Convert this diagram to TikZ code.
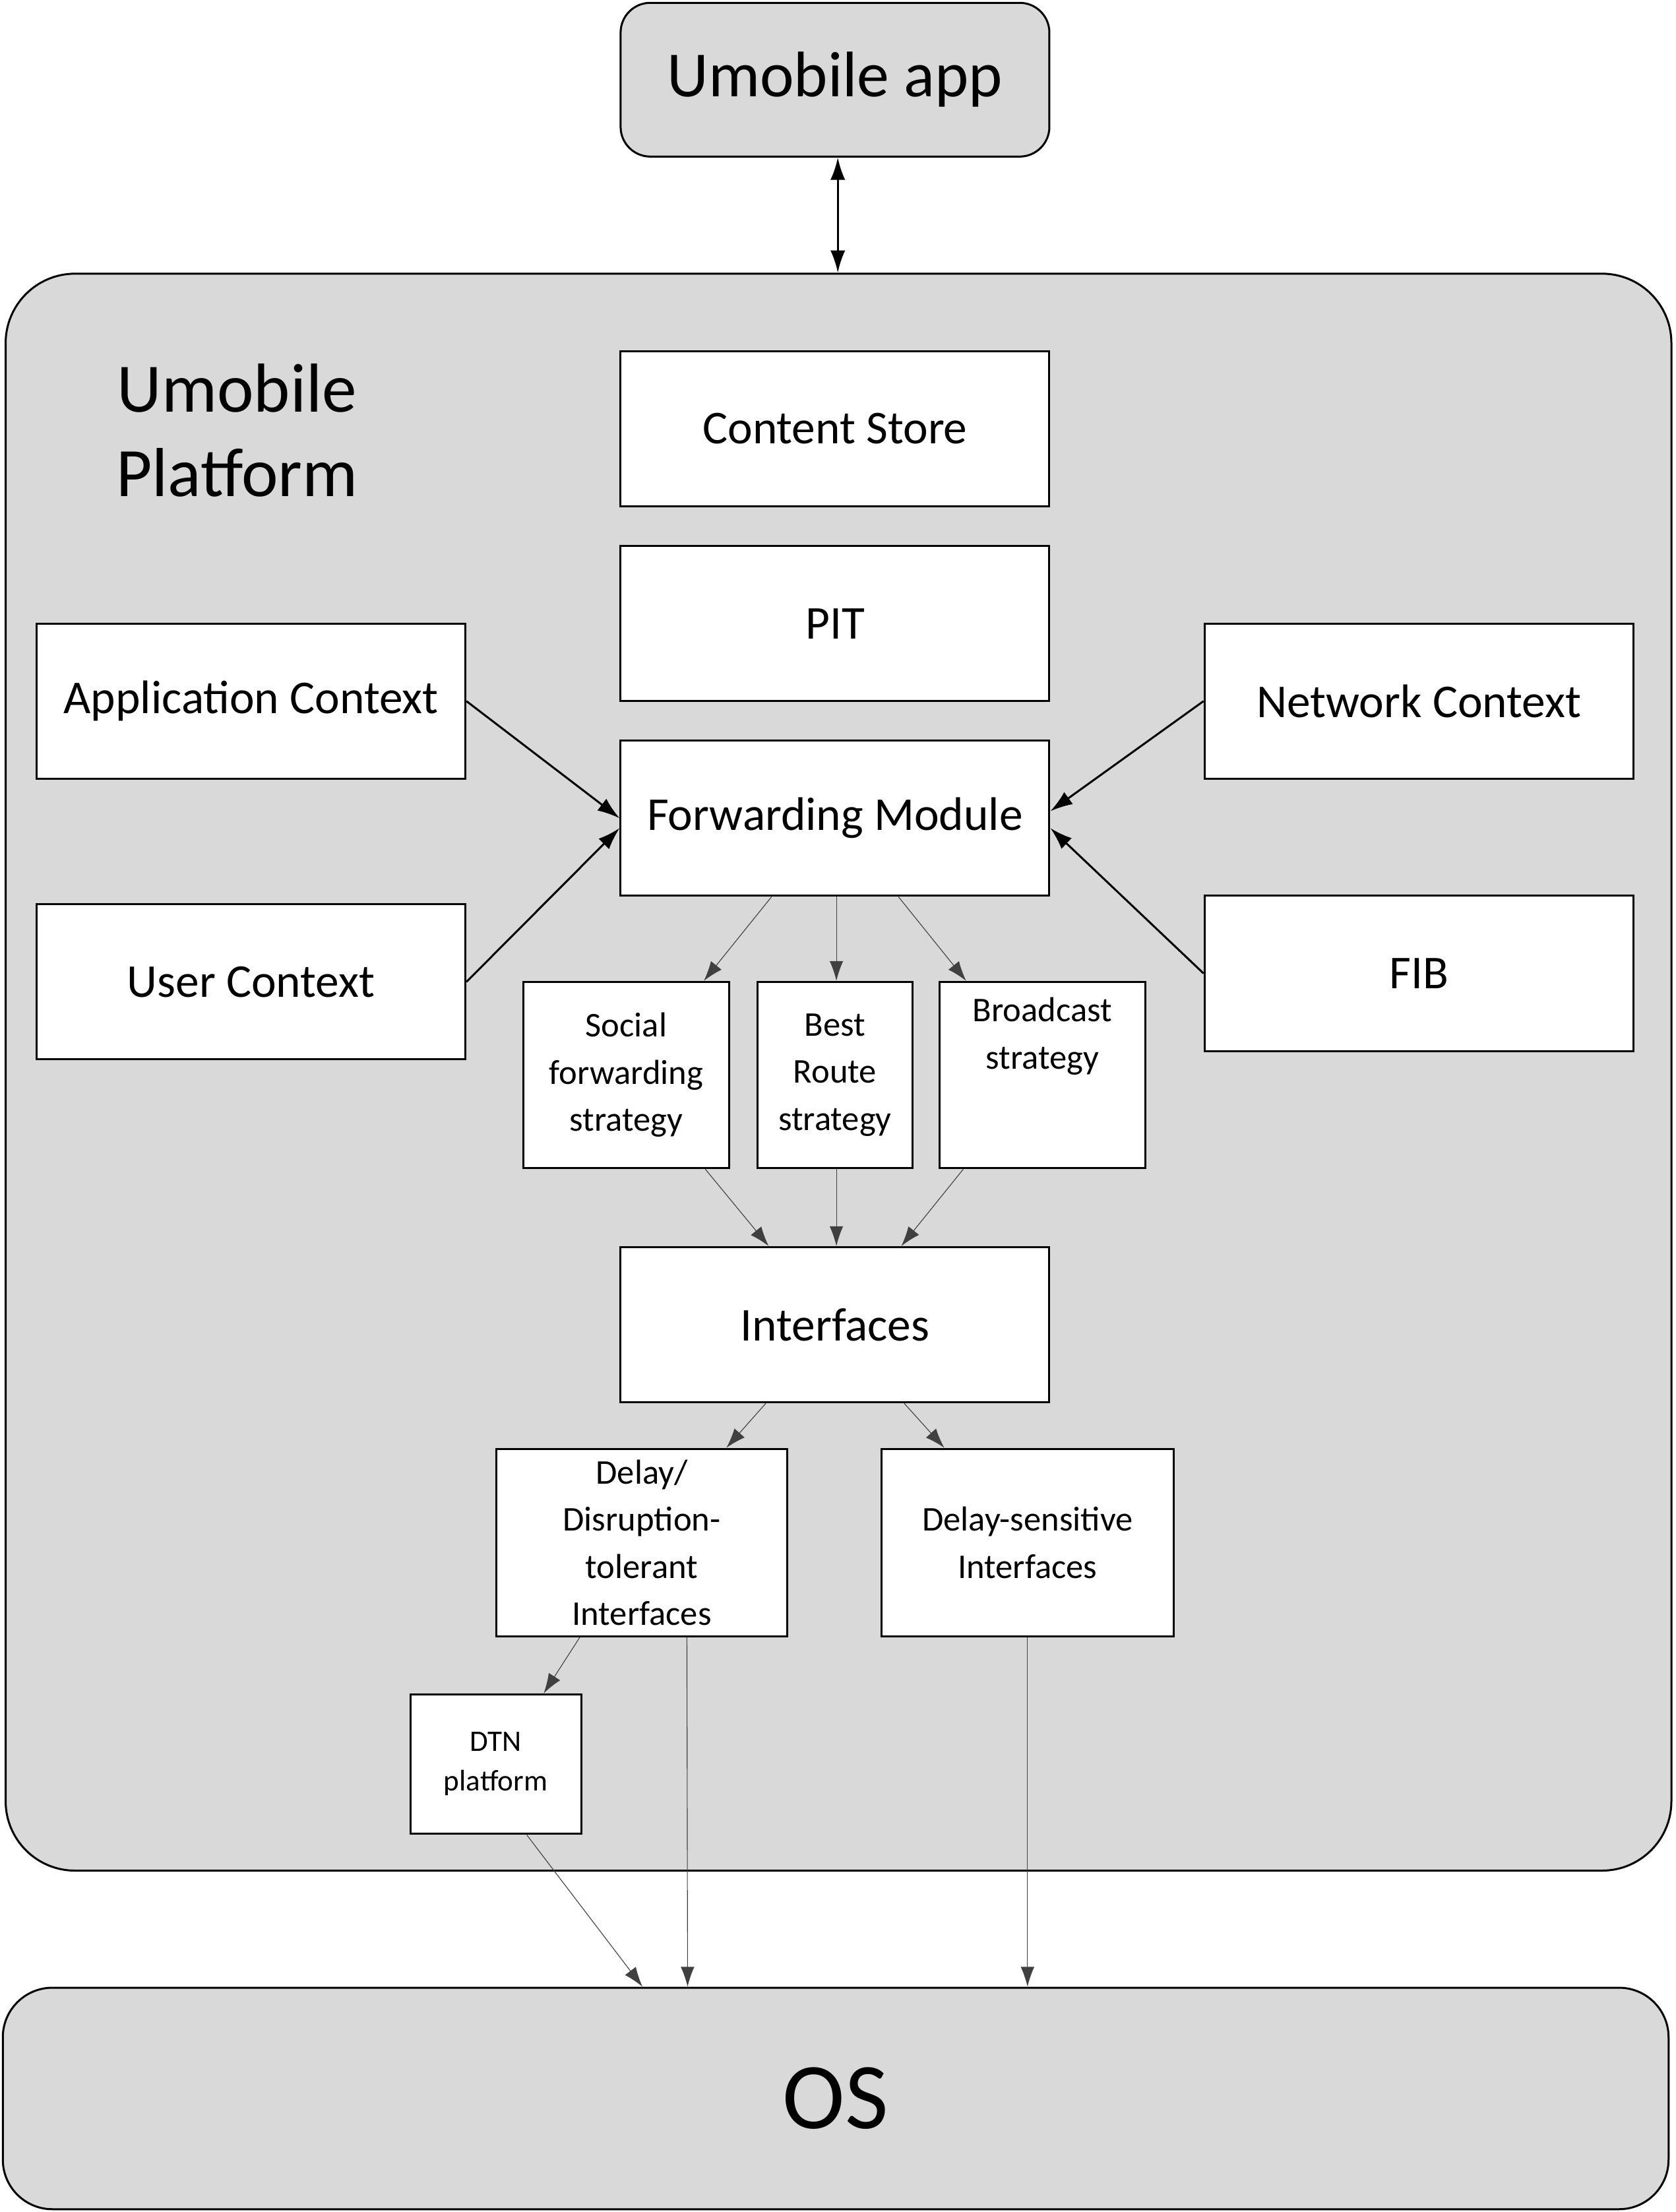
\documentclass[tikz,border=0pt]{standalone}
\usepackage{fontspec}
\setmainfont{Carlito}
\usetikzlibrary{arrows.meta,calc}
\definecolor{bg}{HTML}{D9D9D9}
\begin{document}
\begin{tikzpicture}[x=0.02cm,y=-0.02cm,
  box/.style n args={2}{draw,line width=0.8pt,fill=white,inner sep=0pt,minimum width=#1*0.02cm,minimum height=#2*0.02cm,align=center},
  big/.style={-{Latex[length=9pt,width=6pt]},line width=0.8pt},
  thin/.style={-{Latex[length=8pt,width=5.5pt]},line width=0.3pt,draw=black!75}]
\useasboundingbox (0,0) rectangle (1188,1568);
\node[box={304}{109},fill=bg,rounded corners=12pt,font=\fontsize{26}{30}\selectfont] (app) at (592,56.5) {Umobile app};
\node[draw,line width=0.8pt,fill=bg,rounded corners=28pt,minimum width=1181*0.02cm,minimum height=1132*0.02cm] (plat) at (594.5,760) {};
\node[font=\fontsize{28}{34}\selectfont,align=center] (pt) at (168,305) {Umobile\\Platform};
\node[box={1181}{157},fill=bg,rounded corners=20pt,font=\fontsize{38}{42}\selectfont] (os) at (592.5,1487.5) {OS};
\begin{scope}[font=\fontsize{19}{23}\selectfont]
\node[box={304}{110}] (cs) at (592,304) {Content Store};
\node[box={304}{110}] (pit) at (592,442) {PIT};
\node[box={304}{110}] (fm) at (592,580) {Forwarding Module};
\node[box={304}{110}] (ac) at (178,497) {Application Context};
\node[box={304}{110}] (uc) at (178,696) {User Context};
\node[box={304}{110}] (nc) at (1006,497) {Network Context};
\node[box={304}{110}] (fib) at (1006,690) {FIB};
\node[box={304}{110}] (if) at (592,939) {Interfaces};
\end{scope}
\begin{scope}[font=\fontsize{14}{19}\selectfont]
\node[box={146}{132}] (soc) at (444,762) {Social\\forwarding\\strategy};
\node[box={110}{132}] (br) at (592,762) {Best\\Route\\strategy};
\node[box={146}{132}] (bc) at (739,762) {Broadcast\\strategy\\[1.05em]};
\node[box={206}{133}] (dt) at (455,1093.5) {Delay/\\Disruption-\\tolerant\\Interfaces};
\node[box={207}{133}] (ds) at (728.5,1093.5) {Delay-sensitive\\Interfaces};
\end{scope}
\node[box={121}{99},font=\fontsize{12}{16}\selectfont] (dtn) at (351.5,1250.5) {DTN\\platform};
\draw[big,{Latex[length=9pt,width=6pt]}-{Latex[length=9pt,width=6pt]}] ([xshift=2*0.02cm]app.south) -- ([xshift=2*0.02cm]app.south |- plat.north);
\draw[big] ([yshift=0]ac.east) -- (fm.west);
\draw[big] (uc.east) -- ([yshift=-7*0.02cm]fm.west);
\draw[big] (nc.west) -- ([yshift=5*0.02cm]fm.east);
\draw[big] (fib.west) -- ([yshift=-7*0.02cm]fm.east);
\draw[thin] ([xshift=-45*0.02cm]fm.south) -- ([xshift=55*0.02cm]soc.north);
\draw[thin] ([xshift=1*0.02cm]fm.south) -- ([xshift=1*0.02cm]br.north);
\draw[thin] ([xshift=45*0.02cm]fm.south) -- ([xshift=-54*0.02cm]bc.north);
\draw[thin] ([xshift=56*0.02cm]soc.south) -- ([xshift=-47*0.02cm]if.north);
\draw[thin] ([xshift=1*0.02cm]br.south) -- ([xshift=1*0.02cm]if.north);
\draw[thin] ([xshift=-56*0.02cm]bc.south) -- ([xshift=47*0.02cm]if.north);
\draw[thin] ([xshift=-49*0.02cm]if.south) -- ([xshift=60*0.02cm]dt.north);
\draw[thin] ([xshift=49*0.02cm]if.south) -- ([xshift=-59*0.02cm]ds.north);
\draw[thin] ([xshift=-44*0.02cm]dt.south) -- ([xshift=34*0.02cm]dtn.north);
\draw[thin] ([xshift=32*0.02cm]dt.south) -- ([xshift=-105*0.02cm]os.north);
\draw[thin] (ds.south) -- ([xshift=136*0.02cm]os.north);
\draw[thin] ([xshift=22*0.02cm]dtn.south) -- ([xshift=-137*0.02cm]os.north);
\end{tikzpicture}
\end{document}
